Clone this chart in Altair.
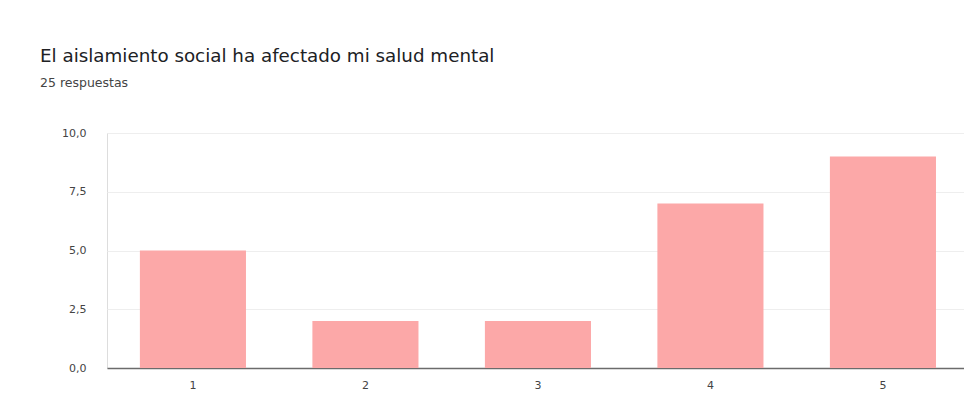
import altair as alt
import pandas as pd

categories = ["1", "2", "3", "4", "5"]
counts = [5, 2, 2, 7, 9]
y_ticks = [0, 2.5, 5, 7.5, 10]

df = pd.DataFrame({"cat": categories, "n": counts})

font = "DejaVu Sans"

chart = alt.Chart(df).mark_bar(color="#fca8a8").encode(
    x=alt.X("cat:N", sort=categories,
            scale=alt.Scale(paddingInner=0.385, paddingOuter=0.1765, align=0.54),
            axis=alt.Axis(title=None, labelAngle=0, ticks=False, domain=True,
                          domainColor="#6b6b6b", domainWidth=1.5, grid=False,
                          labelPadding=11, labelFontSize=11, labelColor="#444444",
                          labelFont=font)),
    y=alt.Y("n:Q", scale=alt.Scale(domain=[0, 10], nice=False),
            axis=alt.Axis(title=None, values=y_ticks, ticks=False, domain=False,
                          labelExpr="replace(format(datum.value, '.1f'), '.', ',')",
                          gridColor="#eeeeee", gridWidth=1,
                          labelPadding=21, labelFontSize=11, labelColor="#444444",
                          labelFont=font)),
).properties(
    width=857,
    height=235,
    padding={"left": 107, "top": 133, "right": 0, "bottom": 26},
    autosize=alt.AutoSizeParams(type="none"),
    title=alt.TitleParams(
        text="El aislamiento social ha afectado mi salud mental",
        subtitle="25 respuestas",
        anchor="start", frame="group", dx=-67, offset=37,
        font=font, fontSize=18.3, fontWeight="normal", color="#202124",
        subtitleFont=font, subtitleFontSize=12.5, subtitleColor="#444444",
        subtitlePadding=10,
    ),
).configure_view(stroke=None).configure(background="white")

chart.save("out.html", embed_options={"renderer": "svg", "actions": False})
